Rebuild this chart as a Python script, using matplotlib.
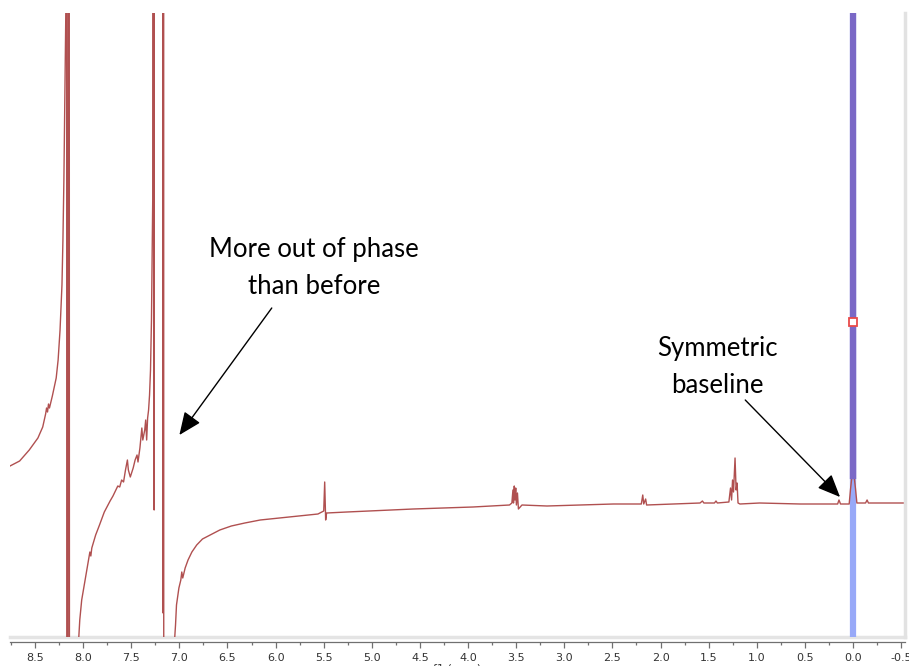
import matplotlib
matplotlib.use("Agg")
import matplotlib.pyplot as plt
from matplotlib.ticker import MultipleLocator, FormatStrFormatter
import numpy as np

# spectrum trace (ppm, intensity in arbitrary units)
# +/-3000 marks where the dispersive peaks run off the screen
ppm = [8.76, 8.66, 8.56, 8.47, 8.42, 8.39, 8.38, 8.37, 8.36, 8.35,
       8.32, 8.28, 8.26, 8.24, 8.22, 8.21, 8.20, 8.19, 8.18, 8.175,
       8.165, 8.15, 8.135, 8.05,
       8.045, 8.035, 8.015, 7.98, 7.95, 7.93, 7.92, 7.91, 7.87, 7.83,
       7.78, 7.72, 7.69, 7.66, 7.64, 7.62, 7.60, 7.58, 7.56, 7.54,
       7.53, 7.51, 7.48, 7.46, 7.44, 7.43, 7.41, 7.39, 7.38, 7.36,
       7.35, 7.34, 7.33, 7.32, 7.31, 7.30, 7.29, 7.277, 7.27,
       7.262, 7.255, 7.175, 7.17, 7.165, 7.16, 7.06,
       7.048, 7.04, 7.03, 7.005, 6.985, 6.975, 6.965, 6.94, 6.91, 6.87,
       6.82, 6.76, 6.68, 6.58, 6.46, 6.32, 6.16, 5.96, 5.75, 5.56,
       5.52, 5.50, 5.49, 5.48, 5.47, 5.26, 4.57, 3.95, 3.57,
       3.545, 3.534, 3.528, 3.52, 3.513, 3.505, 3.498, 3.487, 3.477, 3.44,
       3.18, 2.49, 2.20, 2.185, 2.175, 2.155, 2.145, 1.59, 1.565, 1.55,
       1.44, 1.424, 1.41, 1.29, 1.273, 1.262, 1.252, 1.242, 1.226, 1.215,
       1.205, 1.195, 1.175, 0.97, 0.55, 0.16, 0.146, 0.13,
       0.04, 0.026, 0.012, 0.003, -0.003, -0.012, -0.026, -0.04,
       -0.13, -0.146, -0.16, -0.54]
intensity = [171, 176, 187, 199, 210, 223, 229, 225, 233, 229,
             241, 259, 277, 307, 352, 397, 457, 537, 624, 3000,
             -3000, 3000, -3000, -3000,
             0, 17, 37, 57, 74, 85, 81, 89, 102, 112,
             125, 136, 141, 147, 151, 150, 157, 155, 167, 177,
             167, 160, 169, 177, 182, 175, 189, 209, 197, 207,
             217, 197, 219, 227, 242, 267, 317, 437, 3000,
             127, 3000, 3000, 24, 3000, -3000, -3000,
             0, 12, 32, 49, 57, 65, 59, 69, 77, 85,
             92, 98, 102, 107, 111, 114, 117, 119, 121, 123,
             125, 126, 155, 117, 124, 125, 128, 130, 132,
             134, 147, 134, 151, 137, 149, 132, 144, 128, 132,
             131, 133, 133, 142, 133, 138, 132, 134, 136, 134,
             134, 136, 134, 135, 149, 137, 157, 145, 179, 147,
             154, 134, 133, 134, 133, 133, 137, 133,
             133, 148, 160, 3000, 3000, 160, 148, 134,
             134, 137, 134, 134]

cursor_ppm = 0.0
cursor_mark = 315
tick_step = 0.5

spec_color = "#b05050"

fig = plt.figure(figsize=(9.09, 6.66), dpi=100)
ax = fig.add_axes([10 / 909, 29 / 666, 895 / 909, 624 / 666])

ppm_arr = np.array(ppm)
int_arr = np.array(intensity)

# vertical cursor
ax.axvline(cursor_ppm, color="#98a9f8", lw=4.5, zorder=1)
ax.plot(ppm_arr, int_arr, color=spec_color, lw=1.0, zorder=2)
near = np.abs(ppm_arr - cursor_ppm) < 0.015
ax.plot(ppm_arr[near], int_arr[near], color="#7a68c6", lw=3, zorder=3)
ax.plot(cursor_ppm, cursor_mark, marker="s", ms=6, mfc="white",
        mec="#e84a4a", mew=1.3, zorder=5)

ax.set_xlim(8.76, -0.54)
ax.set_ylim(0, 624)

ax.xaxis.set_major_locator(MultipleLocator(tick_step))
ax.xaxis.set_minor_locator(MultipleLocator(tick_step / 2))
ax.xaxis.set_major_formatter(FormatStrFormatter("%.1f"))
ax.set_yticks([])

for s in ["top", "left"]:
    ax.spines[s].set_visible(False)
ax.spines["right"].set_color("#e2e2e2")
ax.spines["right"].set_linewidth(2.5)
ax.spines["bottom"].set_position(("outward", 3.6))
ax.spines["bottom"].set_color("#707070")
ax.spines["bottom"].set_linewidth(0.9)
ax.plot([0, 1], [0, 0], transform=ax.transAxes, color="#e4e4e4", lw=2.5,
        clip_on=False, zorder=0)

ax.tick_params(axis="x", which="major", length=4, width=0.9, color="#707070",
               labelsize=8, labelcolor="#333333", pad=4)
ax.tick_params(axis="x", which="minor", length=2.5, width=0.9, color="#707070")
ax.set_xlabel("f1 (ppm)", fontsize=8, color="#333333", labelpad=1)

txt = dict(fontsize=18.5, family="Lato", ha="center", va="center",
           linespacing=1.6, color="black")
head = dict(arrowstyle="-|>,head_length=0.7,head_width=0.3", color="black",
            lw=1.0, mutation_scale=20, shrinkA=0, shrinkB=0)

ax.text(5.60, 369, "More out of phase\nthan before", **txt)
ax.annotate("", xy=(7.00, 202), xytext=(6.04, 329), arrowprops=head)

ax.text(1.41, 270, "Symmetric\nbaseline", **txt)
ax.annotate("", xy=(0.135, 140), xytext=(1.12, 237), arrowprops=head)

fig.savefig("out.png", dpi=100)
